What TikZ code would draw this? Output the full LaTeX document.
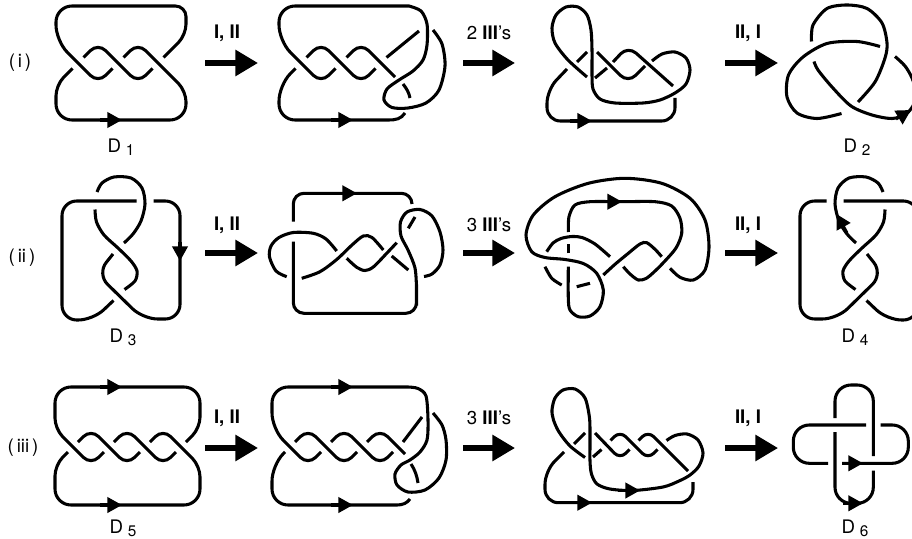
\documentclass[tikz,border=0pt]{standalone}
\usepackage{fontspec}
\setmainfont{TeX Gyre Heros}
\usetikzlibrary{arrows.meta}
\newcommand{\dname}[1]{D\hspace{3.5pt}\raisebox{-2.5pt}{\fontsize{11.5}{11.5}\selectfont #1}}
\newcommand{\rname}[1]{(\kern2.2pt#1\kern2.2pt)}
\newcommand{\figeight}{%
  \draw[knot] plot[smooth] coordinates {(124,243) (133,234) (141,221) (145,204) (142,188) (131,178) (114,177) (102,183) (97,192)};
  \draw[knot] plot[smooth] coordinates {(95,209.5) (96.5,222) (104,235) (118.3,248.3) (131,261) (137,271) (135,281) (124.5,289.5)};
  \draw[poly, rounded corners=11pt] (113.5,300.5) -- (93,320) -- (62,320) -- (62,201) -- (136.5,201);
  \draw[poly, rounded corners=11pt] (153.5,201) -- (180,201) -- (180,319) -- (143,319) -- (97,274) -- (113,254);
}

\begin{document}
\begin{tikzpicture}[x=0.75pt, y=-0.75pt,
    knot/.style={line width=2.3pt},
    poly/.style={knot, rounded corners=8pt},
    tip/.style={line width=2.3pt, -{Triangle[length=11pt,width=11.5pt]}},
    move/.style={line width=3.8pt, -{Triangle[length=17pt,width=19pt]}},
    txt/.style={font=\fontsize{14}{16}\selectfont, inner sep=1pt}
]
\useasboundingbox (0,0) rectangle (912,538);
\clip (0,0) rectangle (912,538);

\node[txt] (row1) at (20,63) {\rname{i}};
\node[txt] (row2) at (22,258) {\rname{ii}};
\node[txt] (row3) at (23,448) {\rname{iii}};

\coordinate (m11) at (205,63);  \coordinate (m12) at (258,63);
\coordinate (m13) at (463,63);  \coordinate (m14) at (515,63);
\coordinate (m15) at (725,63);  \coordinate (m16) at (778,63);
\coordinate (m21) at (205,253); \coordinate (m22) at (258,253);
\coordinate (m23) at (463,253); \coordinate (m24) at (515,253);
\coordinate (m25) at (725,253); \coordinate (m26) at (778,253);
\coordinate (m31) at (205,448); \coordinate (m32) at (258,448);
\coordinate (m33) at (463,448); \coordinate (m34) at (515,448);
\coordinate (m35) at (725,448); \coordinate (m36) at (778,448);
\draw[move] (m11) -- (m12);
\draw[move] (m13) -- (m14);
\draw[move] (m15) -- (m16);
\draw[move] (m21) -- (m22);
\draw[move] (m23) -- (m24);
\draw[move] (m25) -- (m26);
\draw[move] (m31) -- (m32);
\draw[move] (m33) -- (m34);
\draw[move] (m35) -- (m36);
\node[txt] (l11) at (227,33) {\textbf{I, II}};
\node[txt] (l12) at (489,33) {2 \textbf{III}'s};
\node[txt] (l13) at (748,33) {\textbf{II, I}};
\node[txt] (l21) at (227,225) {\textbf{I, II}};
\node[txt] (l22) at (489,225) {3 \textbf{III}'s};
\node[txt] (l23) at (748,225) {\textbf{II, I}};
\node[txt] (l31) at (227,418) {\textbf{I, II}};
\node[txt] (l32) at (489,418) {3 \textbf{III}'s};
\node[txt] (l33) at (748,418) {\textbf{II, I}};

\node[txt] (d1) at (121,147) {\dname{1}};
\node[txt] (d2) at (857,147) {\dname{2}};
\node[txt] (d3) at (123,337) {\dname{3}};
\node[txt] (d4) at (855,337) {\dname{4}};
\node[txt] (d5) at (123,528) {\dname{5}};
\node[txt] (d6) at (855,528) {\dname{6}};

\draw[poly] (123.5,57.5) -- (138,43) -- (186,91) [rounded corners=12pt] -- (186,120) -- (56,120) [rounded corners=8pt] -- (56,85) -- (72.5,68.5);
\draw[poly] (83.5,57.5) -- (98,43) -- (138,83) -- (152.5,68.5);
\draw[poly] (163.5,57.5) -- (186,35) -- (186,6) [rounded corners=12pt] -- (56,6) -- (56,41) [rounded corners=8pt] -- (98,83) -- (112.5,68.5);
\draw[tip] (100,120) -- (122,120);

\draw[knot] plot[smooth] coordinates {(433,30) (442,44) (445,66) (439,90) (426,103) (408,108) (392,107.5) (384,100) (387,89) (399,80) (413,71) (423,60) (427,45) (427,24) (421,11) (409,6)} -- (400,6) [rounded corners=12pt] -- (279,6) -- (279,41) [rounded corners=8pt] -- (321,83) -- (335.5,68.5);
\draw[poly] (306.5,57.5) -- (321,43) -- (361,83) -- (375.5,68.5);
\draw[poly] (346.5,57.5) -- (361,43) -- (395,77);
\draw[knot] (403,84) .. controls (407,89) and (409,93) .. (410,98);
\draw[knot] (405,113) .. controls (401,119) and (396,120) .. (388,120) -- (380,120) [rounded corners=12pt] -- (279,120) -- (279,85) [rounded corners=8pt] -- (295.5,68.5);
\draw[knot] (386.5,57.5) -- (419,31);
\draw[tip] (331,120) -- (353,120);

\draw[poly, rounded corners=10pt] (675,98) -- (675,121) -- (547,121) -- (547,90) -- (567,69);
\draw[knot] (577,62) -- (587,52);
\draw[poly] (597,52) -- (628,83) -- (645,66);
\draw[knot] (595,78) -- (607,68);
\draw[poly] (613,62) -- (628,46) -- (673,86);
\draw[knot] plot[smooth] coordinates {(652,61) (662,54) (675,52) (686,58) (690,70) (686,84) (675,93) (660,100) (643,103) (615,103) (600,99) (593,89) (592,75) (592,50) (591,30) (587,15) (578,7) (566,7) (556,15) (552,28) (555,43) (568,60) (587,77)};
\draw[tip] (570,121) -- (592,121);

\draw[knot] plot[smooth] coordinates {(858,102) (875,82) (885,58) (887,43) (882,23) (867,8.5) (847,5) (827,8.5) (813,25) (811.5,41.5)};
\draw[knot] plot[smooth] coordinates {(880,46.5) (857,41.5) (827,43.5) (803,57) (788.5,75) (787,97) (797,113) (817,118.5) (841.5,113.5)};
\draw[knot] plot[smooth] coordinates {(895,56.5) (905,66) (912,78) (916,92) (914,104) (906,114) (892,118.5) (872,115) (851,106) (832,87) (818,70) (814,61.5)};
\draw[tip] (896,119) -- (911,110);

\figeight
\draw[tip] (180,242) -- (180,261);

\draw[poly] (293.3,221.7) -- (293.3,193.3) -- (412,193.3) -- (412,204);
\draw[knot] plot[smooth] coordinates {(286.7,276.7) (276,271) (269.5,257) (271,246) (279,237.5) (293.3,232.5) (313.3,233.3) (326,239) (336.7,251)};
\draw[knot] (293.3,241.7) [rounded corners=8pt] -- (293.3,313.3) -- (416.5,313.3) -- (416.5,295) [sharp corners] -- plot[smooth] coordinates {(416.5,288) (415,268) (408,250) (401,236) (400.5,222) (407,212) (420,209.5) (432,216) (440,232) (443,250) (440,265) (432,274) (424,276.5)};
\draw[knot] plot[smooth] coordinates {(301.7,278.3) (320,271.7) (336.7,259.5) (352,245) (363.3,236) (372,237.5) (383.3,250)};
\draw[knot] plot[smooth] coordinates {(346.7,258.3) (356.7,267.3) (365,270.5) (373.3,267) (386.7,253.3) (396.7,242.7)};
\draw[knot] (391.7,256) -- (408.3,270);
\draw[knot] (408.3,228.3) -- (415,217);
\draw[tip] (335,193.3) -- (357,193.3);

\draw[knot] plot[smooth] coordinates {(670,268.3) (680,277.3) (693.3,280) (705,270) (709,246.7) (705,220) (690,198.3) (661.7,183.3) (625,178.3) (588.3,183.3) (555,196.7) (533.3,215) (526,235) (531.7,251.7) (545,257.5) (565,259.5) (583.3,263.5) (596.7,273.3) (603.3,290) (600,306.7) (590,316) (578.3,316.7) (570,310) (568.3,298.3) (568.3,266.7)};
\draw[knot] (568.3,253.3) -- (568.3,244);
\draw[knot] plot[smooth] coordinates {(568.3,232) (569,216.7) (575,205) (590,201.7) (622,201.7) (655,201.7) (671.7,206) (680,218.3) (681.7,233.3) (676,248) (664,262) (654,272) (646,278.5) (638.3,280) (630,274) (623.3,266.7)};
\draw[knot] plot[smooth] coordinates {(546.7,251.7) (553,243) (561,238.5) (572,236.5) (582,237.5) (595,244) (610,256.7)};
\draw[knot] plot[smooth] coordinates {(603.3,275) (615,264.3) (628.3,253.3) (640,244) (646.7,242.7) (655,249.3) (661.7,256.7)};
\draw[knot] plot[smooth] coordinates {(545,266.7) (551.7,278.3) (561.7,285)};
\draw[knot] (576.7,286.7) -- (590,283.3);
\draw[tip] (600,201.7) -- (622,201.7);

\begin{scope}[shift={(980,0)}, xscale=-1]
\figeight
\end{scope}
\draw[tip] (847,233) -- (836.5,214);

\draw[poly] (78,442) -- (91,429) -- (127,465) -- (140,452);
\draw[poly] (114,442) -- (127,429) -- (163,465) -- (176,452);
\draw[poly] (150,442) -- (163,429) -- (200,466) [rounded corners=12pt] -- (200,505) -- (55,505) [rounded corners=8pt] -- (55,465) -- (68,452);
\draw[poly] (186,442) -- (200,428) [rounded corners=12pt] -- (200,387) -- (55,387) [rounded corners=8pt] -- (55,429) -- (91,465) -- (104,452);
\draw[tip] (100,387) -- (122,387);
\draw[tip] (100,505) -- (122,505);

\draw[poly] (295,442) -- (308,429) -- (344,465) -- (357,452);
\draw[poly] (331,442) -- (344,429) -- (380,465) -- (393,452);
\draw[poly] (367,442) -- (380,429) -- (405,454);
\draw[knot] (411,464) .. controls (415,470) and (417,476) .. (418,483);
\draw[knot] (410,499) .. controls (407,503) and (403,505) .. (397,505) -- (390,505) [rounded corners=12pt] -- (272,505) -- (272,465) [rounded corners=8pt] -- (285,452);
\draw[knot] (403,442) -- (422,417);
\draw[knot] plot[smooth] coordinates {(433,413) (442,425) (446,440) (446,460) (439,478) (425,490) (408,492) (397,485) (395,474) (401,465) (410,460) (420,452) (427,440) (428,420) (426,396) (418,388.5) (408,387)} -- (400,387) [rounded corners=12pt] -- (272,387) -- (272,429) [rounded corners=8pt] -- (308,465) -- (321,452);
\draw[tip] (331,387) -- (353,387);
\draw[tip] (331,505) -- (353,505);

\draw[poly, rounded corners=10pt] (693,482) -- (693,502.7) -- (545,502.7) -- (545,471) -- (564,452);
\draw[knot] (574,444) -- (585,433);
\draw[poly, rounded corners=6pt] (595,433) -- (620,459) -- (629.5,449.5);
\draw[knot] (593,457) -- (601.5,449.5);
\draw[poly, rounded corners=6pt] (610.5,440.5) -- (620,431) -- (648,459) -- (657.5,449.5);
\draw[poly, rounded corners=6pt] (638.5,440.5) -- (648,431) -- (688,471);
\draw[knot] plot[smooth] coordinates {(666.5,440.5) (675,435.5) (687,434) (698,440) (703,453) (699,466) (690,475) (679,481) (663,487) (633,490.5) (610,489) (597,484) (591.5,474) (590,461) (590,440) (589.5,418) (585,398) (575,389) (563,390) (555,398) (552,410) (553.5,420) (559,432) (570,446) (585,457.5)};
\draw[tip] (570,502.7) -- (592,502.7);
\draw[tip] (618,490.5) -- (640,490.5);

\draw[poly, rounded corners=12pt] (835,432) -- (835,503.3) -- (873.3,503.3) -- (873.3,470.5);
\draw[poly, rounded corners=12pt] (873.3,456) -- (873.3,385) -- (835,385) -- (835,418);
\draw[poly, rounded corners=12pt] (866,425) -- (793.3,425) -- (793.3,463.3) -- (828,463.3);
\draw[poly, rounded corners=12pt] (842,463.3) -- (908.3,463.3) -- (908.3,425) -- (880.5,425);
\draw[tip] (843,463.3) -- (863,463.3);
\draw[tip] (843,503.3) -- (863,503.3);
\end{tikzpicture}
\end{document}
